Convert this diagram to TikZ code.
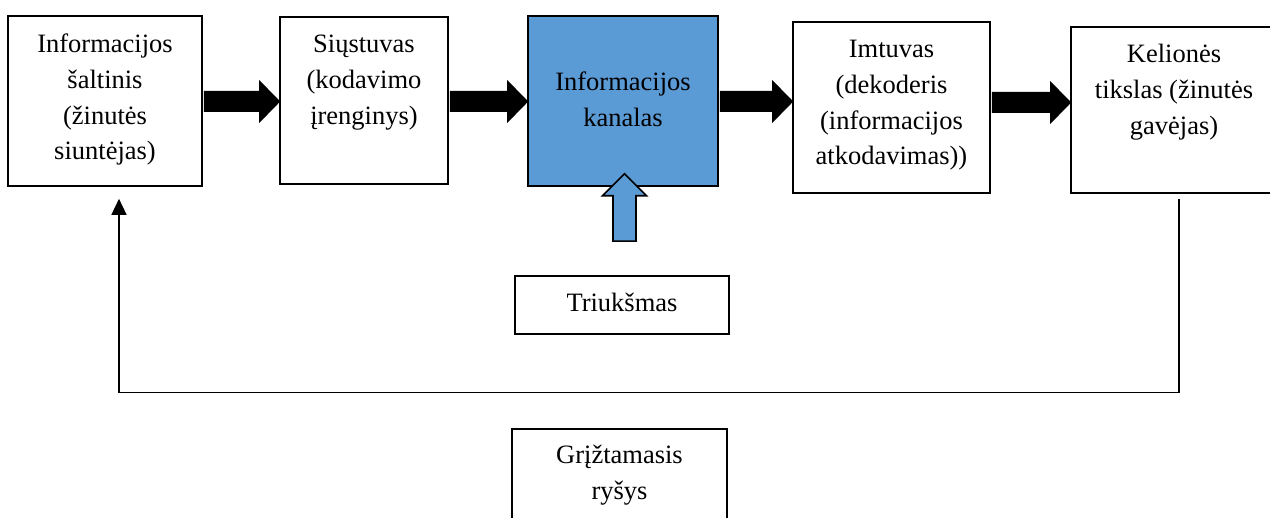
\documentclass[tikz,border=0pt]{standalone}
\usepackage{fontspec}
\setmainfont{Liberation Serif}
\usetikzlibrary{arrows.meta,calc}
\definecolor{chanblue}{HTML}{5B9BD5}
\tikzset{
  box/.style={draw=black, line width=1.6pt, rectangle, inner sep=0pt},
  lbl/.style={anchor=north, align=center, inner sep=0pt, font=\fontsize{26.5}{35.8}\selectfont},
  fbline/.style={line width=1.4pt, -{Triangle[length=16pt,width=15pt]}},
  blockarr/.style={fill=black},
  noisearr/.style={fill=chanblue, draw=black, line width=1.6pt, line join=miter},
}
\newcommand\myblockarrow[3]{%
  \fill[blockarr] let \p1=(#1.east), \p2=(#2.west) in
    (\x1+1pt,-#3pt+10.5pt) -- (\x2-20pt,-#3pt+10.5pt) -- (\x2-20pt,-#3pt+21.5pt) --
    (\x2+1pt,-#3pt) -- (\x2-20pt,-#3pt-21.5pt) -- (\x2-20pt,-#3pt-10.5pt) --
    (\x1+1pt,-#3pt-10.5pt) -- cycle;}
\begin{document}
\begin{tikzpicture}[x=1pt,y=-1pt]
  \useasboundingbox (0,0) rectangle (1270,518);
  \clip (0,0) rectangle (1270,518);
  % boxes
  \node[box, minimum width=194pt, minimum height=170pt] (b1) at (105,101) {};
  \node[box, minimum width=168pt, minimum height=167pt] (b2) at (364,100.5) {};
  \node[box, fill=chanblue, minimum width=190pt, minimum height=170pt] (b3) at (623,101) {};
  \node[box, minimum width=197pt, minimum height=171pt] (b4) at (891.5,107.5) {};
  \node[box, minimum width=206pt, minimum height=166pt] (b5) at (1174,110) {};
  \node[box, minimum width=214pt, minimum height=58pt] (noise) at (622,305) {};
  \node[box, minimum width=215pt, minimum height=112pt] (fb) at (619.5,485) {};
  % labels
  \node[lbl] (t1) at ([yshift=-12pt]b1.north) {\strut Informacijos\\\strut šaltinis\\\strut (žinutės\\\strut siuntėjas)};
  \node[lbl] (t2) at ([yshift=-11pt]b2.north) {\strut Siųstuvas\\\strut (kodavimo\\\strut įrenginys)};
  \node[lbl] (t3) at ([yshift=-50pt]b3.north) {\strut Informacijos\\\strut kanalas};
  \node[lbl] (t4) at ([yshift=-11pt]b4.north) {\strut Imtuvas\\\strut (dekoderis\\\strut (informacijos\\\strut atkodavimas))};
  \node[lbl] (t5) at ([yshift=-11pt]b5.north) {\strut Kelionės\\\strut tikslas (žinutės\\\strut gavėjas)};
  \node[lbl] (tn) at ([yshift=-11pt]noise.north) {\strut Triukšmas};
  \node[lbl] (tf) at ([yshift=-10pt]fb.north) {\strut Grįžtamasis\\\strut ryšys};
  % block arrows
  \myblockarrow{b1}{b2}{101.5}
  \myblockarrow{b2}{b3}{101.5}
  \myblockarrow{b3}{b4}{101.5}
  \myblockarrow{b4}{b5}{102.5}
  % noise arrow
  \filldraw[noisearr] let \p1=(b3.south), \p2=(noise.north) in
    (\x1-10pt,\y2+34pt) -- (\x1-10pt,\y1-9pt) -- (\x1-20.5pt,\y1-9pt) --
    (\x1+1.5pt,\y1+13pt) -- (\x1+23.5pt,\y1-9pt) -- (\x1+13pt,\y1-9pt) --
    (\x1+13pt,\y2+34pt) -- cycle;
  % feedback line
  \draw[fbline] ([xshift=5pt,yshift=-5pt]b5.south) -- ++(0,194) -| ([xshift=14pt,yshift=-12pt]b1.south);
\end{tikzpicture}
\end{document}
